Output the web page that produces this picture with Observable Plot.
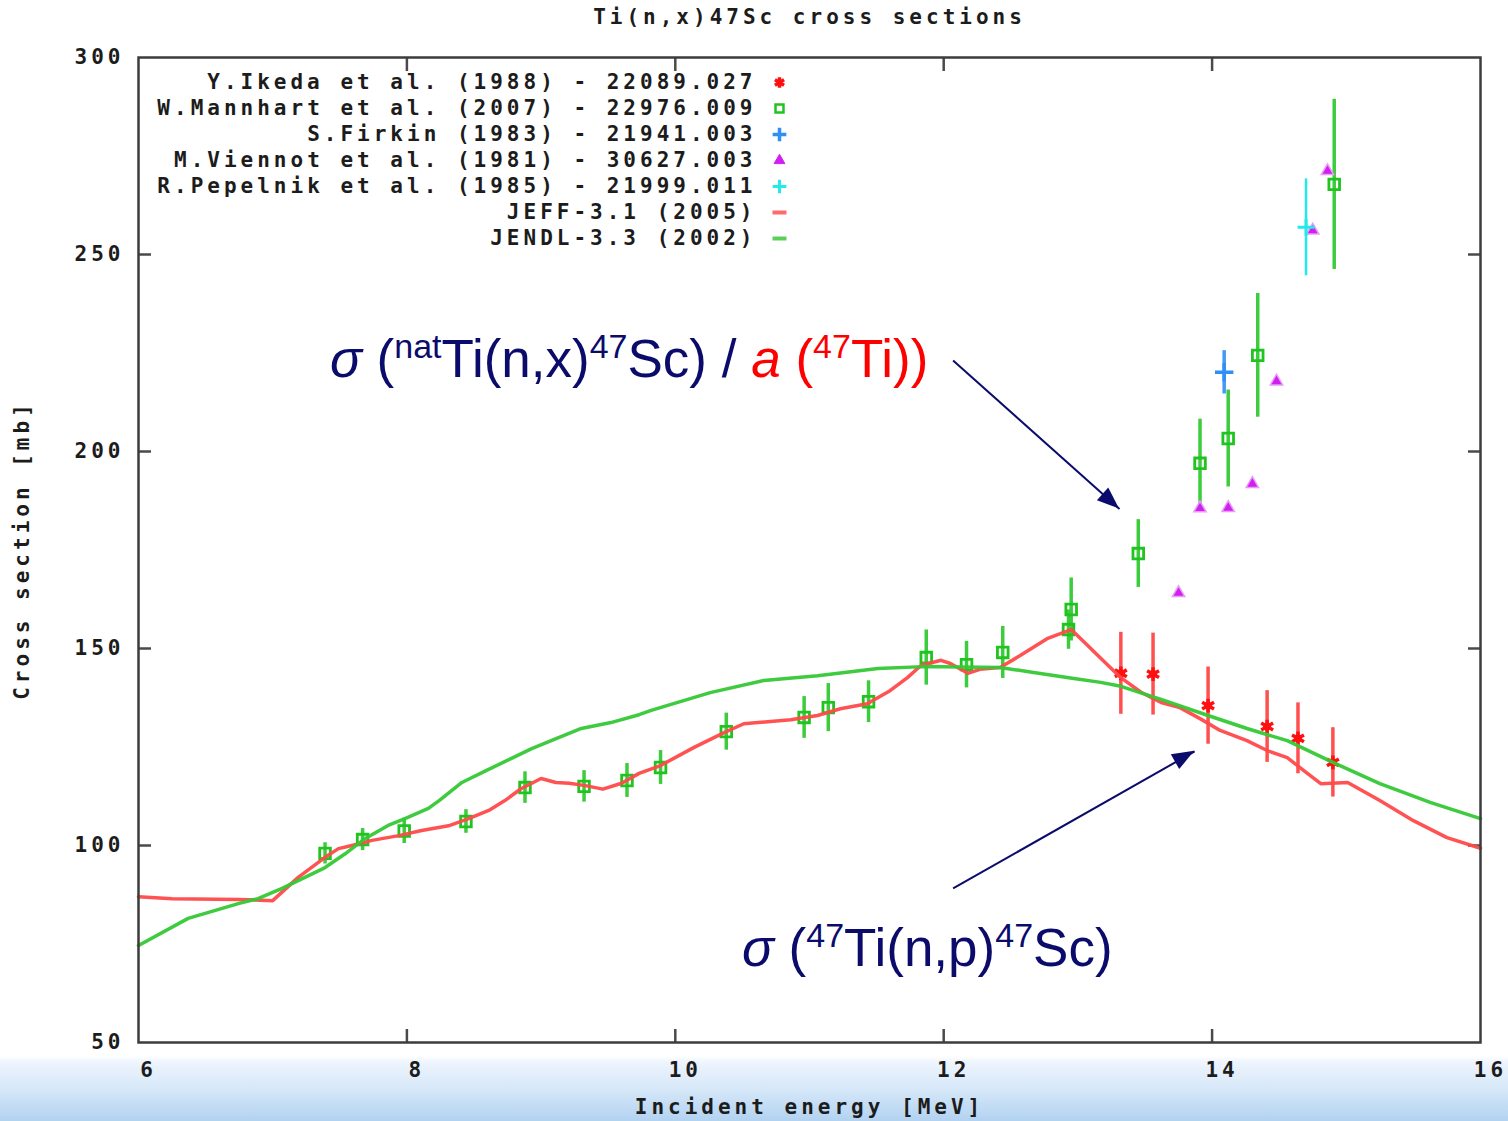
<!DOCTYPE html>
<html>
<head>
<meta charset="utf-8">
<script src="https://cdn.jsdelivr.net/npm/d3@7"></script>
<script src="https://cdn.jsdelivr.net/npm/@observablehq/plot@0.6"></script>
<style>
html, body { margin: 0; padding: 0; }
body {
  width: 1508px; height: 1121px; overflow: hidden;
  background: linear-gradient(to bottom, #ffffff 0px, #ffffff 1056px, #eef5fd 1062px, #d5e7f8 1090px, #b2d2f1 1121px);
}
#chart svg { display: block; }
</style>
</head>
<body>
<div id="chart"></div>
<script>
// ---------- data ----------
const titleText = "Ti(n,x)47Sc cross sections";
const xLabelText = "Incident energy [MeV]";
const yLabelText = "Cross section [mb]";

const xTickValues = [6, 8, 10, 12, 14, 16];
const yTickValues = [50, 100, 150, 200, 250, 300];
const xInnerTicks = [8, 10, 12, 14];
const yInnerTicks = [100, 150, 200, 250];

const legendLabels = [
  "Y.Ikeda et al. (1988) - 22089.027",
  "W.Mannhart et al. (2007) - 22976.009",
  "S.Firkin (1983) - 21941.003",
  "M.Viennot et al. (1981) - 30627.003",
  "R.Pepelnik et al. (1985) - 21999.011",
  "JEFF-3.1 (2005)",
  "JENDL-3.3 (2002)"
];

// Y.Ikeda et al. (1988)
const ikedaE   = [13.32, 13.56, 13.97, 14.41, 14.64, 14.90];
const ikedaV   = [143.7, 143.5, 135.5, 130.2, 127.2, 121.1];
const ikedaErr = [10.4, 10.4, 9.8, 9.1, 9.0, 8.8];

// W.Mannhart et al. (2007)
const mannE   = [7.39, 7.67, 7.98, 8.44, 8.88, 9.32, 9.64, 9.89, 10.38, 10.96, 11.14, 11.44, 11.87, 12.17, 12.44, 12.93, 12.95, 13.45, 13.91, 14.12, 14.34, 14.91];
const mannV   = [98.0, 101.5, 103.7, 106.1, 114.7, 115.0, 116.5, 119.8, 128.9, 132.5, 135.0, 136.5, 147.7, 145.9, 149.0, 154.8, 159.9, 174.1, 197.0, 203.3, 224.4, 267.8];
const mannErr = [2.7, 2.8, 3.2, 3.0, 4.0, 4.0, 4.3, 4.3, 4.7, 5.3, 6.1, 5.3, 7.0, 5.9, 6.6, 5.0, 8.0, 8.6, 11.2, 12.3, 15.7, 21.6];

// S.Firkin (1983)
const firkinE = [14.09];
const firkinV = [220.1];
const firkinErr = [5.5];

// M.Viennot et al. (1981)
const viennotE = [13.75, 13.91, 14.12, 14.30, 14.48, 14.75, 14.86];
const viennotV = [164.1, 185.6, 185.7, 191.8, 217.8, 256.1, 271.2];

// R.Pepelnik et al. (1985)
const pepelE = [14.70];
const pepelV = [256.9];
const pepelErr = [12.3];

// JEFF-3.1 (2005)
const jeffE = [6.00, 6.25, 6.75, 7.00, 7.19, 7.39, 7.49, 7.59, 7.74, 7.94, 8.11, 8.31, 8.46, 8.61, 8.73, 8.85, 9.00, 9.11, 9.21, 9.33, 9.46, 9.60, 9.73, 9.89, 10.14, 10.36, 10.51, 10.86, 11.06, 11.23, 11.43, 11.60, 11.73, 11.83, 11.98, 12.05, 12.18, 12.27, 12.42, 12.57, 12.77, 12.95, 13.05, 13.17, 13.32, 13.47, 13.62, 13.76, 13.91, 14.06, 14.26, 14.41, 14.56, 14.71, 14.81, 15.01, 15.25, 15.50, 15.75, 16.00];
const jeffV = [87.0, 86.5, 86.3, 86.0, 91.9, 97.0, 99.2, 100.0, 101.3, 102.5, 103.8, 105.0, 106.8, 108.9, 111.4, 114.4, 117.0, 116.0, 115.8, 115.2, 114.3, 115.8, 118.3, 120.3, 124.9, 128.6, 130.9, 131.9, 133.0, 134.7, 136.0, 139.3, 142.6, 145.7, 147.0, 146.2, 143.7, 144.7, 145.2, 148.2, 152.5, 154.8, 151.5, 147.5, 142.6, 138.9, 136.3, 135.0, 132.2, 129.2, 126.6, 124.1, 122.3, 118.3, 115.7, 116.0, 111.4, 106.3, 102.0, 99.3];

// JENDL-3.3 (2002)
const jendlE = [6.00, 6.37, 6.75, 6.89, 7.07, 7.24, 7.39, 7.54, 7.69, 7.86, 7.99, 8.16, 8.24, 8.41, 8.59, 8.76, 8.93, 9.13, 9.30, 9.52, 9.73, 9.82, 10.26, 10.66, 11.06, 11.51, 11.85, 12.42, 12.67, 12.97, 13.17, 13.32, 13.62, 13.97, 14.26, 14.56, 14.90, 15.25, 15.63, 16.00];
const jendlV = [74.6, 81.5, 85.3, 86.5, 89.1, 91.9, 94.4, 97.9, 101.8, 105.1, 106.9, 109.4, 111.4, 116.0, 119.0, 121.8, 124.6, 127.4, 129.7, 131.2, 133.2, 134.3, 138.8, 141.9, 143.1, 144.9, 145.4, 145.2, 143.9, 142.4, 141.4, 140.4, 137.1, 133.0, 129.7, 126.6, 121.1, 115.7, 110.9, 106.8];

// annotations (anchor in data units)
const annot1Pos = [7.43, 218.8];
const annot1Parts = [
  {t: "σ", italic: true}, {t: " ("}, {t: "nat", sup: true}, {t: "Ti(n,x)"}, {t: "47", sup: true},
  {t: "Sc) / "}, {t: "a", italic: true, red: true}, {t: " (", red: true}, {t: "47", sup: true, red: true}, {t: "Ti))", red: true}
];
const annot2Pos = [10.50, 69.3];
const annot2Parts = [
  {t: "σ", italic: true}, {t: " ("}, {t: "47", sup: true}, {t: "Ti(n,p)"}, {t: "47", sup: true}, {t: "Sc)"}
];
const arrowFrom = [[12.07, 223.1], [12.07, 89.1]];
const arrowTo   = [[13.31, 185.4], [13.87, 123.9]];

// ---------- tables ----------
const ikeda = ikedaE.map((e, i) => ({E: e, v: ikedaV[i], err: ikedaErr[i]}));
const mann = mannE.map((e, i) => ({E: e, v: mannV[i], err: mannErr[i]}));
const firkin = firkinE.map((e, i) => ({E: e, v: firkinV[i], err: firkinErr[i]}));
const viennot = viennotE.map((e, i) => ({E: e, v: viennotV[i]}));
const pepel = pepelE.map((e, i) => ({E: e, v: pepelV[i], err: pepelErr[i]}));
const jeff = jeffE.map((e, i) => ({E: e, v: jeffV[i]}));
const jendl = jendlE.map((e, i) => ({E: e, v: jendlV[i]}));
const arrows = arrowFrom.map((a, i) => ({x1: a[0], y1: a[1], x2: arrowTo[i][0], y2: arrowTo[i][1]}));

// ---------- styles ----------
const NAVY = "#0b0b6c";
const C_IKEDA = "#ff1010", C_IKEDA_BAR = "#ff5050";
const C_MANN = "#1fc41f", C_MANN_BAR = "#3dcc3d";
const C_FIRKIN = "#2f8ff5";
const C_VIENNOT = "#d21ef0";
const C_PEPEL = "#22eaea";
const C_JEFF = "#ff4a4a";
const C_JENDL = "#35c835";

const lineSymbol = { draw(ctx) { ctx.moveTo(-7, 0); ctx.lineTo(7, 0); } };

const legendSymbols = [
  {symbol: "asterisk", stroke: C_IKEDA, fill: "none", strokeWidth: 3.5, r: 5},
  {symbol: "square", stroke: C_MANN, fill: "none", strokeWidth: 2.5, r: 4.5},
  {symbol: "plus", stroke: C_FIRKIN, fill: "none", strokeWidth: 3.5, r: 4.5},
  {symbol: "triangle", stroke: C_VIENNOT, fill: C_VIENNOT, strokeWidth: 1, r: 4},
  {symbol: "plus", stroke: C_PEPEL, fill: "none", strokeWidth: 3, r: 4.5},
  {symbol: lineSymbol, stroke: "#ff6a6a", fill: "none", strokeWidth: 4, r: 4},
  {symbol: lineSymbol, stroke: "#5ad05a", fill: "none", strokeWidth: 4, r: 4}
];

const TXT = "#1c1c1c";
const tickStyle = {tickFormat: () => "", label: null, stroke: "#4a4a4a", strokeWidth: 2.5};

const chart = Plot.plot({
  width: 1508,
  height: 1121,
  marginTop: 57,
  marginLeft: 138,
  marginRight: 28,
  marginBottom: 79,
  style: {background: "transparent", fontFamily: "'DejaVu Sans Mono', monospace", fontSize: "21px", fontWeight: "bold", color: TXT, letterSpacing: "4px"},
  x: {domain: [6, 16], label: null},
  y: {domain: [50, 300], label: null},
  marks: [
    // tick labels
    Plot.axisX({anchor: "bottom", ticks: xTickValues, tickSize: 0, tickPadding: 20, dx: 10, label: null, fill: TXT}),
    Plot.axisY({anchor: "left", ticks: yTickValues, tickSize: 0, tickPadding: 14, label: null, fill: TXT}),
    // inward ticks
    Plot.axisX({anchor: "bottom", ticks: xInnerTicks, tickSize: -13, ...tickStyle}),
    Plot.axisX({anchor: "top", ticks: xInnerTicks, tickSize: -13, ...tickStyle}),
    Plot.axisY({anchor: "left", ticks: yInnerTicks, tickSize: -13, ...tickStyle}),
    Plot.axisY({anchor: "right", ticks: yInnerTicks, tickSize: -13, ...tickStyle}),

    // Ikeda
    Plot.ruleX(ikeda, {x: "E", y1: d => d.v - d.err, y2: d => d.v + d.err, stroke: C_IKEDA_BAR, strokeWidth: 3.5}),
    Plot.dot(ikeda, {x: "E", y: "v", symbol: "asterisk", r: 6.5, stroke: C_IKEDA, strokeWidth: 3.5}),
    Plot.dot(ikeda, {x: "E", y: "v", symbol: "circle", r: 4, fill: C_IKEDA}),
    // Mannhart
    Plot.ruleX(mann, {x: "E", y1: d => d.v - d.err, y2: d => d.v + d.err, stroke: C_MANN_BAR, strokeWidth: 3.5}),
    Plot.dot(mann, {x: "E", y: "v", symbol: "square", r: 6, stroke: C_MANN, strokeWidth: 2.8, fill: "none"}),
    // Firkin
    Plot.ruleX(firkin, {x: "E", y1: d => d.v - d.err, y2: d => d.v + d.err, stroke: C_FIRKIN, strokeWidth: 3.5, strokeOpacity: 0.9}),
    Plot.dot(firkin, {x: "E", y: "v", symbol: "plus", r: 6, stroke: C_FIRKIN, strokeWidth: 3.5}),
    // Viennot
    Plot.dot(viennot, {x: "E", y: "v", symbol: "triangle", r: 4.6, fill: C_VIENNOT, stroke: "#e89cf5", strokeWidth: 1.5}),
    // Pepelnik
    Plot.ruleX(pepel, {x: "E", y1: d => d.v - d.err, y2: d => d.v + d.err, stroke: C_PEPEL, strokeWidth: 2.5}),
    Plot.dot(pepel, {x: "E", y: "v", symbol: "plus", r: 5.5, stroke: C_PEPEL, strokeWidth: 3}),

    // evaluations
    Plot.line(jeff, {x: "E", y: "v", stroke: C_JEFF, strokeWidth: 3.5, strokeOpacity: 0.95}),
    Plot.line(jendl, {x: "E", y: "v", stroke: C_JENDL, strokeWidth: 3.5, strokeOpacity: 0.95}),

    // frame
    Plot.frame({stroke: "#3c3c3c", strokeWidth: 2.5}),

    // legend
    ...legendLabels.map((t, i) => Plot.text([t], {frameAnchor: "top-left", dx: 618, dy: 25 + 26 * i, textAnchor: "end", lineAnchor: "middle", fill: TXT})),
    ...legendSymbols.map((s, i) => Plot.dot([0], {frameAnchor: "top-left", dx: 641, dy: 25 + 26 * i, ...s})),

    // titles
    Plot.text([titleText], {frameAnchor: "top", dy: -40, lineAnchor: "middle", textAnchor: "middle", fill: TXT}),
    Plot.text([xLabelText], {frameAnchor: "bottom", dy: 65, lineAnchor: "middle", textAnchor: "middle", fill: TXT}),
    Plot.text([yLabelText], {frameAnchor: "left", dx: -116, rotate: -90, lineAnchor: "middle", textAnchor: "middle", fill: TXT}),

    // annotation arrows (shafts)
    Plot.link(arrows, {x1: "x1", y1: "y1", x2: "x2", y2: "y2", stroke: NAVY, strokeWidth: 2})
  ]
});

document.getElementById("chart").appendChild(chart);

// ---------- annotation text & arrowheads, positioned with Plot's own scales ----------
const sx = chart.scale("x"), sy = chart.scale("y");
const svg = d3.select(chart);

function addAnnotation(pos, parts) {
  const t = svg.append("text")
    .attr("x", sx.apply(pos[0]))
    .attr("y", sy.apply(pos[1]))
    .attr("fill", NAVY)
    .attr("text-anchor", "start")
    .style("font-family", "'Liberation Sans', Arial, Helvetica, sans-serif")
    .style("font-size", "53px")
    .style("font-weight", "normal")
    .style("letter-spacing", "0px")
    .style("white-space", "pre");
  let raised = false;
  parts.forEach(p => {
    const ts = t.append("tspan").text(p.t).attr("fill", p.red ? "#ff0000" : NAVY);
    if (p.italic) ts.style("font-style", "italic");
    if (p.sup) {
      ts.style("font-size", "34px");
      if (!raised) { ts.attr("dy", -19); raised = true; }
    } else if (raised) {
      ts.attr("dy", 19); raised = false;
    }
  });
}
addAnnotation(annot1Pos, annot1Parts);
addAnnotation(annot2Pos, annot2Parts);

arrows.forEach(a => {
  const x1 = sx.apply(a.x1), y1 = sy.apply(a.y1), x2 = sx.apply(a.x2), y2 = sy.apply(a.y2);
  const ang = Math.atan2(y2 - y1, x2 - x1);
  const L = 22, W = 8.5;
  const bx = x2 - L * Math.cos(ang), by = y2 - L * Math.sin(ang);
  const px = -Math.sin(ang) * W, py = Math.cos(ang) * W;
  svg.append("path")
    .attr("d", `M${x2},${y2}L${bx + px},${by + py}L${bx - px},${by - py}Z`)
    .attr("fill", NAVY);
});
</script>
</body>
</html>
